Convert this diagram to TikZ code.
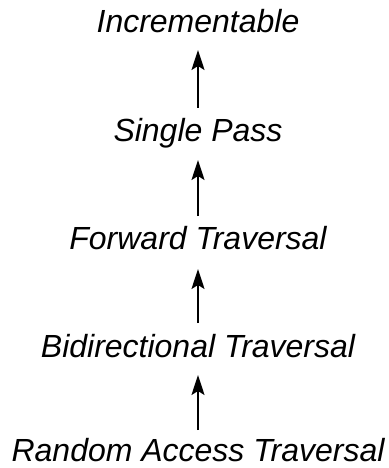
\documentclass[tikz,border=0pt]{standalone}
\usepackage{fontspec}
\setmainfont{Liberation Sans}
\usetikzlibrary{arrows.meta}
\begin{document}
\begin{tikzpicture}[x=1pt,y=1pt,
  lbl/.style={anchor=base,inner sep=0pt,font=\fontsize{32}{37}\selectfont\itshape},
  arr/.style={line width=1.8pt,-{Stealth[length=20pt,width=13pt,inset=4pt]}}]
\useasboundingbox (0,0) rectangle (388,-468);
\node[lbl] (inc) at (198,-33) {Incrementable};
\node[lbl] (sp) at (198,-141) {Single Pass};
\node[lbl] (fw) at (198,-249) {Forward Traversal};
\node[lbl] (bi) at (198,-357) {Bidirectional Traversal};
\node[lbl] (ra) at (198,-461) {Random Access Traversal};
\coordinate (t1) at (198,-50);
\coordinate (b1) at (198,-108);
\coordinate (t2) at (198,-160);
\coordinate (b2) at (198,-216);
\coordinate (t3) at (198,-269);
\coordinate (b3) at (198,-323);
\coordinate (t4) at (198,-375);
\coordinate (b4) at (198,-430);
\draw[arr] (b1) -- (t1);
\draw[arr] (b2) -- (t2);
\draw[arr] (b3) -- (t3);
\draw[arr] (b4) -- (t4);
\end{tikzpicture}
\end{document}
